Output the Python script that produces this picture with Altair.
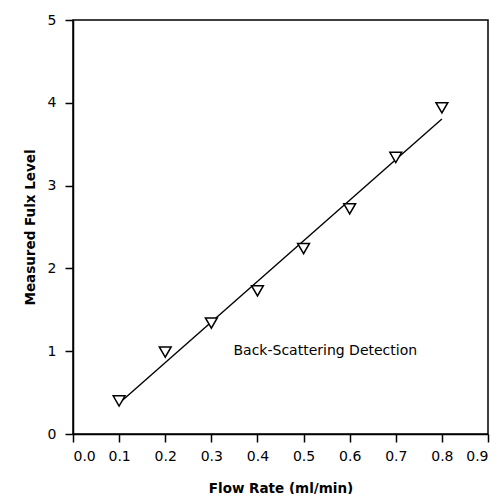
import altair as alt
import pandas as pd

flow_rate = [0.1, 0.2, 0.3, 0.4, 0.5, 0.6, 0.7, 0.8]
flux_level = [0.40, 0.99, 1.34, 1.73, 2.24, 2.72, 3.34, 3.94]
label_text = ["Back-Scattering Detection"]
label_x = [0.348]
label_y = [1.0]
x_ticks = [0, 0.1, 0.2, 0.3, 0.4, 0.5, 0.6, 0.7, 0.8, 0.9]
y_ticks = [0, 1, 2, 3, 4, 5]

df = pd.DataFrame({"x": flow_rate, "y": flux_level})
lab = pd.DataFrame({"x": label_x, "y": label_y, "t": label_text})

FONT = "DejaVu Sans"
xscale = alt.Scale(domain=[0, 0.9], nice=False, zero=False)
yscale = alt.Scale(domain=[0, 5], nice=False)

xaxis = alt.Axis(values=x_ticks, format=".1f", title="Flow Rate (ml/min)", labelPadding=7,
                 titlePadding=18)
yaxis = alt.Axis(values=y_ticks, format="d", title="Measured Fulx Level", labelPadding=9,
                 titlePadding=10)

base = alt.Chart(df)

line = base.transform_regression("x", "y", method="linear", extent=[0.1, 0.8]).mark_line(
    color="black", strokeWidth=1.4
).encode(x=alt.X("x:Q", scale=xscale, axis=xaxis), y=alt.Y("y:Q", scale=yscale, axis=yaxis))

pts = base.mark_point(shape="triangle-down", filled=False, color="black", size=140,
                      strokeWidth=1.5, fill="white", fillOpacity=1).encode(
    x=alt.X("x:Q", scale=xscale, axis=xaxis), y=alt.Y("y:Q", scale=yscale, axis=yaxis))

txt = alt.Chart(lab).mark_text(align="left", baseline="middle", fontSize=14,
                               font=FONT, color="black").encode(
    x=alt.X("x:Q", scale=xscale, axis=xaxis), y=alt.Y("y:Q", scale=yscale, axis=yaxis), text="t:N")

chart = alt.layer(line, pts, txt).properties(
    width=415, height=414,
    background="white",
    autosize=alt.AutoSizeParams(type="none"),
    padding={"left": 65, "top": 12, "right": 3, "bottom": 60},
).configure_view(stroke="black", strokeWidth=1.5).configure_axis(
    grid=False, tickSize=8, domainColor="black", tickColor="black", labelColor="black",
    titleColor="black", labelFontSize=14, titleFontSize=13.5, titleFontWeight="bold",
    labelFont=FONT, titleFont=FONT, domainWidth=1.5, tickWidth=1.5
)

chart.save("out.html", embed_options={"renderer": "svg", "actions": False})
